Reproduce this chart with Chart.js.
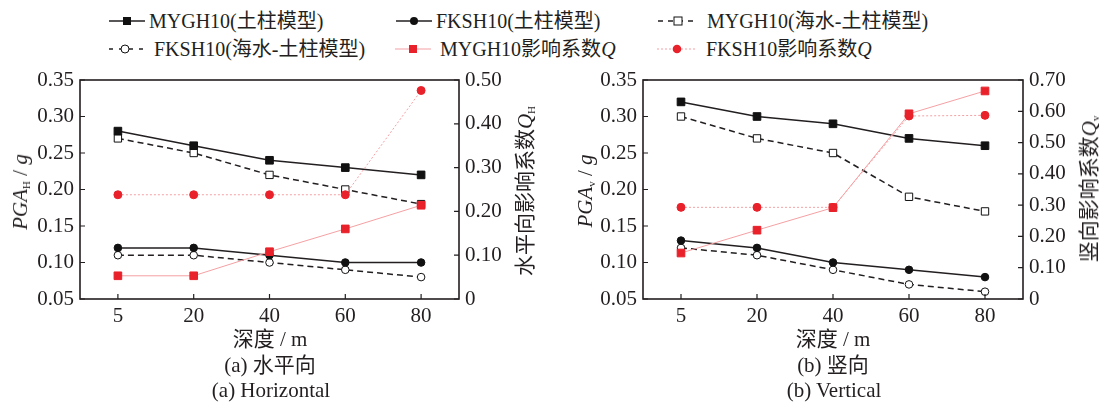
<!DOCTYPE html>
<html>
<head>
<meta charset="utf-8">
<script src="https://cdn.jsdelivr.net/npm/chart.js@4.4.0/dist/chart.umd.min.js"></script>
<style>
  body { margin: 0; background: #fff; width: 1103px; height: 405px; position: relative; overflow: hidden;
         font-family: "Liberation Serif", "Noto Sans CJK SC", serif; color: #231f20; }
  .abs { position: absolute; white-space: nowrap; font-size: 21px; line-height: 1; }
  .ct { transform: translate(-50%, -50%); }
  .vt { transform: translate(-50%, -50%) rotate(-90deg); }
  sub { font-size: 11px; vertical-align: -3px; font-style: normal; }
  .cv { position: absolute; }
  .leg { position: absolute; font-size: 20px; line-height: 1; transform: translateY(-50%); white-space: nowrap; display: flex; align-items: center; }
  .leg svg { margin-right: 4px; }
</style>
</head>
<body>

<!-- legend -->
<div class="leg" style="left:109px;top:21px;">
  <svg width="36" height="14"><line x1="0" y1="7" x2="36" y2="7" stroke="#231f20" stroke-width="1.6"/><rect x="14" y="3" width="8" height="8" fill="#111"/></svg>MYGH10(土柱模型)</div>
<div class="leg" style="left:396px;top:21px;">
  <svg width="36" height="14"><line x1="0" y1="7" x2="36" y2="7" stroke="#231f20" stroke-width="1.6"/><circle cx="18" cy="7" r="4" fill="#111"/></svg>FKSH10(土柱模型)</div>
<div class="leg" style="left:658px;top:21px;">
  <svg width="40" height="14"><line x1="0" y1="7" x2="40" y2="7" stroke="#231f20" stroke-width="1.4" stroke-dasharray="5,5"/><rect x="16" y="3" width="8" height="8" fill="#fff" stroke="#111" stroke-width="1"/></svg>&nbsp;MYGH10(海水-土柱模型)</div>
<div class="leg" style="left:109px;top:49px;">
  <svg width="36" height="14"><line x1="0" y1="7" x2="36" y2="7" stroke="#231f20" stroke-width="1.4" stroke-dasharray="4,6"/><circle cx="16" cy="7" r="4" fill="#fff" stroke="#111" stroke-width="1"/></svg>&nbsp;FKSH10(海水-土柱模型)</div>
<div class="leg" style="left:395px;top:49px;">
  <svg width="36" height="14"><line x1="0" y1="7" x2="36" y2="7" stroke="#f5a0a3" stroke-width="1.2"/><rect x="14" y="3" width="8" height="8" fill="#e8212a"/></svg>&nbsp;MYGH10影响系数<i>Q</i></div>
<div class="leg" style="left:657px;top:49px;">
  <svg width="40" height="14"><line x1="0" y1="7" x2="40" y2="7" stroke="#f5a0a3" stroke-width="1.2" stroke-dasharray="2,2"/><circle cx="20" cy="7" r="4.3" fill="#e8212a"/></svg>&nbsp;FKSH10影响系数<i>Q</i></div>

<canvas id="chartH" class="cv" width="560" height="270" style="left:0;top:70px;"></canvas>
<canvas id="chartV" class="cv" width="543" height="270" style="left:560px;top:70px;"></canvas>

<!-- axis titles and captions -->
<div class="abs vt" style="left:21px;top:192px;"><i>PGA</i><sub>H</sub> / <i>g</i></div>
<div class="abs vt" style="left:526px;top:191px;">水平向影响系数<i>Q</i><sub>H</sub></div>
<div class="abs vt" style="left:586px;top:191px;"><i>PGA</i><sub>v</sub> / <i>g</i></div>
<div class="abs vt" style="left:1090px;top:189px;">竖向影响系数<i>Q</i><sub>v</sub></div>

<div class="abs ct" style="left:270px;top:339px;">深度 / m</div>
<div class="abs ct" style="left:270px;top:365px;">(a) 水平向</div>
<div class="abs ct" style="left:271px;top:390px;">(a) Horizontal</div>
<div class="abs ct" style="left:833px;top:339px;">深度 / m</div>
<div class="abs ct" style="left:833px;top:365px;">(b) 竖向</div>
<div class="abs ct" style="left:834px;top:390px;">(b) Vertical</div>

<script>
// depth categories
const depths = ["5", "20", "40", "60", "80"];

// (a) horizontal
const hMyghSoil = [0.28, 0.26, 0.24, 0.23, 0.22];
const hFkshSoil = [0.12, 0.12, 0.11, 0.10, 0.10];
const hMyghSea = [0.27, 0.25, 0.22, 0.20, 0.18];
const hFkshSea = [0.11, 0.11, 0.10, 0.09, 0.08];
const hMyghQ = [0.053, 0.053, 0.108, 0.16, 0.214];
const hFkshQ = [0.238, 0.238, 0.238, 0.238, 0.476];

// (b) vertical
const vMyghSoil = [0.32, 0.30, 0.29, 0.27, 0.26];
const vFkshSoil = [0.13, 0.12, 0.10, 0.09, 0.08];
const vMyghSea = [0.30, 0.27, 0.25, 0.19, 0.17];
const vFkshSea = [0.12, 0.11, 0.09, 0.07, 0.06];
const vMyghQ = [0.147, 0.22, 0.292, 0.592, 0.665];
const vFkshQ = [0.293, 0.293, 0.293, 0.585, 0.587];

// axis ranges
const pgaMin = 0.05, pgaMax = 0.35, pgaStep = 0.05;
const hQMax = 0.5, vQMax = 0.7, qStep = 0.1;

const ink = "#231f20";
const red = "#e8212a";
const pink = "#f5a0a3";

Chart.defaults.font.family = '"Liberation Serif", "Noto Sans CJK SC", serif';
Chart.defaults.font.size = 21;
Chart.defaults.color = ink;

function series(data, axis, style) {
  return Object.assign({
    data: data,
    yAxisID: axis,
    borderColor: ink,
    borderWidth: 1.5,
    tension: 0,
    fill: false,
    pointRadius: 4,
    pointHoverRadius: 4,
    pointBorderWidth: 1,
  }, style);
}

function makeSets(myghSoil, fkshSoil, myghSea, fkshSea, myghQ, fkshQ) {
  // first in the list is drawn on top
  return [
    series(myghQ, "y1", { borderColor: pink, borderWidth: 1, pointStyle: "rect", pointRadius: 5.4,
      pointBackgroundColor: red, pointBorderColor: red }),
    series(fkshQ, "y1", { borderColor: pink, borderWidth: 1, borderDash: [2, 2], pointStyle: "circle", pointRadius: 4,
      pointBackgroundColor: red, pointBorderColor: red }),
    series(myghSoil, "y", { pointStyle: "rect", pointRadius: 5.4, pointBackgroundColor: "#111", pointBorderColor: "#111" }),
    series(fkshSoil, "y", { pointStyle: "circle", pointRadius: 3.8, pointBackgroundColor: "#111", pointBorderColor: "#111" }),
    series(myghSea, "y", { borderDash: [6, 4], pointStyle: "rect", pointRadius: 5.2, pointBackgroundColor: "#fff", pointBorderColor: "#111" }),
    series(fkshSea, "y", { borderDash: [6, 4], pointStyle: "circle", pointRadius: 3.8, pointBackgroundColor: "#fff", pointBorderColor: "#111" }),
  ];
}

// box round the plot plus short inward tick marks
const framePlugin = {
  id: "frame",
  afterDraw(chart) {
    const { ctx, chartArea: a, scales } = chart;
    ctx.save();
    ctx.strokeStyle = ink;
    ctx.lineWidth = 1.6;
    ctx.strokeRect(a.left, a.top, a.right - a.left, a.bottom - a.top);
    ctx.lineWidth = 1.2;
    ctx.beginPath();
    scales.x.ticks.forEach((t, i) => {
      const px = scales.x.getPixelForTick(i);
      ctx.moveTo(px, a.bottom);
      ctx.lineTo(px, a.bottom - 5);
    });
    scales.y.ticks.forEach((t, i) => {
      const py = scales.y.getPixelForTick(i);
      ctx.moveTo(a.left, py);
      ctx.lineTo(a.left + 5, py);
    });
    scales.y1.ticks.forEach((t, i) => {
      const py = scales.y1.getPixelForTick(i);
      ctx.moveTo(a.right, py);
      ctx.lineTo(a.right - 5, py);
    });
    ctx.stroke();
    ctx.restore();
  },
};

function makeChart(id, sets, qMax, leftW, rightW) {
  return new Chart(document.getElementById(id), {
    type: "line",
    data: { labels: depths, datasets: sets },
    options: {
      responsive: false,
      animation: false,
      devicePixelRatio: 1,
      layout: { padding: { top: 10, left: 0, right: 0, bottom: 0 } },
      plugins: { legend: { display: false }, tooltip: { enabled: false } },
      scales: {
        x: {
          offset: true,
          grid: { display: false, drawTicks: false },
          border: { display: false },
          ticks: { padding: 5 },
          afterFit(s) { s.height = 41; s.paddingLeft = 0; s.paddingRight = 0; },
        },
        y: {
          position: "left",
          min: pgaMin,
          max: pgaMax,
          grid: { display: false, drawTicks: false },
          border: { display: false },
          ticks: { stepSize: pgaStep, padding: 6, callback: (v) => v.toFixed(2) },
          afterFit(s) { s.width = leftW; s.paddingTop = 0; s.paddingBottom = 0; },
        },
        y1: {
          position: "right",
          min: 0,
          max: qMax,
          grid: { display: false, drawTicks: false },
          border: { display: false },
          ticks: { stepSize: qStep, padding: 6, callback: (v) => (Math.abs(v) < 1e-9 ? "0" : v.toFixed(2)) },
          afterFit(s) { s.width = rightW; s.paddingTop = 0; s.paddingBottom = 0; },
        },
      },
    },
    plugins: [framePlugin],
  });
}

makeChart("chartH", makeSets(hMyghSoil, hFkshSoil, hMyghSea, hFkshSea, hMyghQ, hFkshQ), hQMax, 80, 101);
makeChart("chartV", makeSets(vMyghSoil, vFkshSoil, vMyghSea, vFkshSea, vMyghQ, vFkshQ), vQMax, 83, 80);
</script>
</body>
</html>
